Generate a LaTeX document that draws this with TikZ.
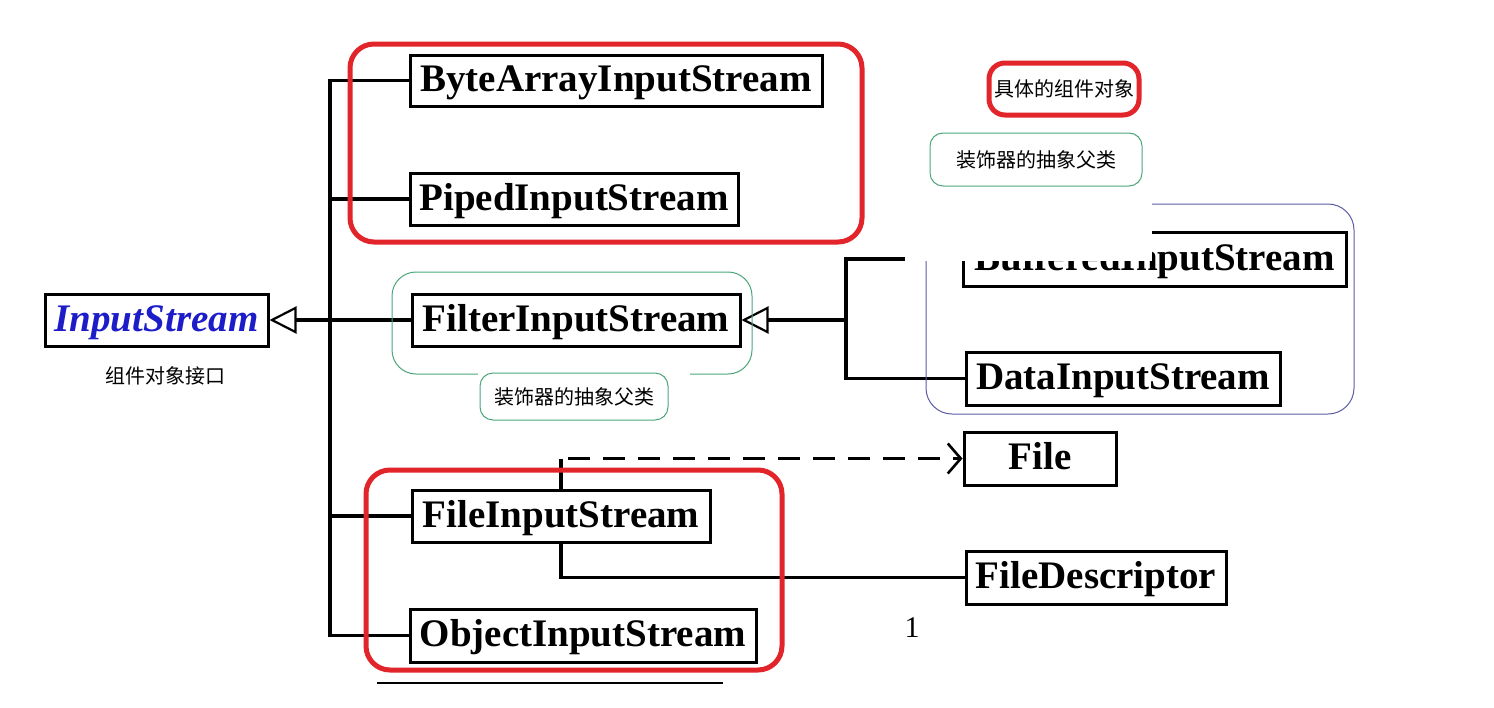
\documentclass[tikz,border=0pt]{standalone}
\usepackage{fontspec}
\setmainfont{Liberation Serif}
\newfontfamily\cjk{Noto Sans CJK SC}
\usetikzlibrary{arrows.meta}
\definecolor{redbox}{HTML}{E2242B}
\definecolor{greenbox}{HTML}{4AA67A}
\definecolor{bluebox}{HTML}{5C5CA6}
\definecolor{isblue}{HTML}{1C1CC8}
\begin{document}
\begin{tikzpicture}[x=1pt,y=-1pt,
  cls/.style={draw=black, line width=3pt, fill=white, inner sep=0pt,
    font=\fontsize{39}{39}\selectfont\bfseries, text height=28pt, text depth=6pt},
  conn/.style={line width=3.2pt},
  tri/.style={-{Triangle[open, length=27pt, width=27pt, line width=2.2pt]}},
  redframe/.style={draw=redbox, line width=5pt, rounded corners=24pt},
  greenframe/.style={draw=greenbox, line width=1pt, rounded corners=24pt},
  blueframe/.style={draw=bluebox, line width=1pt, rounded corners=26pt},
  cjklabel/.style={font=\cjk\fontsize{20}{20}\selectfont, inner sep=0pt},
  greenlabel/.style={cjklabel, draw=greenbox, line width=1pt, rounded corners=13pt, fill=white},
  redlabel/.style={cjklabel, draw=redbox, line width=5pt, rounded corners=16pt, fill=white}
]
\useasboundingbox (0,0) rectangle (1494,707);
\fill[white] (0,0) rectangle (1494,707);

% class boxes
\node[cls, minimum width=223pt, minimum height=52pt, text=isblue, font=\fontsize{39}{39}\selectfont\bfseries\itshape] (input) at (156.5,320) {InputStream};
\node[cls, minimum width=412pt, minimum height=51pt] (byte) at (616,80.5) {ByteArrayInputStream};
\node[cls, minimum width=328pt, minimum height=52pt] (piped) at (574,199) {PipedInputStream};
\node[cls, minimum width=328pt, minimum height=52pt] (filter) at (576,320) {FilterInputStream};
\node[cls, minimum width=383pt, minimum height=54pt] (buffered) at (1154.5,259) {BufferedInputStream};
\node[cls, minimum width=314pt, minimum height=53pt] (data) at (1123,378.5) {DataInputStream};
\node[cls, minimum width=152pt, minimum height=53pt] (file) at (1040,458.5) {File};
\node[cls, minimum width=298pt, minimum height=52pt] (fis) at (561,516) {FileInputStream};
\node[cls, minimum width=260pt, minimum height=53pt] (fd) at (1096,577.5) {FileDescriptor};
\node[cls, minimum width=346pt, minimum height=53pt] (ois) at (583,635.5) {ObjectInputStream};

% connectors
\coordinate (bus) at (330,0);
\coordinate (bus2) at (846,0);
\draw[conn] (byte.west) -| (bus |- ois.west) -- (ois.west);
\draw[conn] (piped.west) -- (piped.west -| bus);
\draw[conn] (fis.west) -- (fis.west -| bus);
\draw[conn, tri] (filter.west) -- (input.east);
\draw[conn] (buffered.west) -| (bus2 |- data.west) -- (data.west);
\draw[conn, tri] (filter.east -| bus2) -- (filter.east);
\draw[conn] (fis.north) -- (fis.north |- file.west) coordinate (dstart);
\draw[conn, dash pattern=on 22pt off 13pt, shorten <=7pt,
  -{Straight Barb[length=13pt, width=30pt, line width=2.6pt]}] (dstart) -- (file.west);
\draw[conn] (fis.south) |- (fd.west);

% frames
\draw[redframe] (350,44) rectangle (862,242);
\draw[redframe] (366,470) rectangle (782,670);
\draw[greenframe] (392,272) rectangle (752,374);
\draw[blueframe] (926,204) rectangle (1354,414);

% white patches covering part of the picture
\fill[white] (905,190) rectangle (1152,261);
\fill[white] (478,368) rectangle (690,380);

% labels
\node[cjklabel] (lab1) at (165,376) {组件对象接口};
\node[greenlabel, minimum width=188pt, minimum height=47pt] (lab2) at (574,396.5) {装饰器的抽象父类};
\node[greenlabel, minimum width=212pt, minimum height=53pt] (lab3) at (1036,159.5) {装饰器的抽象父类};
\node[redlabel, minimum width=150pt, minimum height=52pt] (lab4) at (1064,89) {具体的组件对象};
\node[font=\fontsize{30}{30}\selectfont, inner sep=0pt] (one) at (912,628) {1};
\draw[line width=1.5pt] (377,683) -- (723,683);
\end{tikzpicture}
\end{document}
